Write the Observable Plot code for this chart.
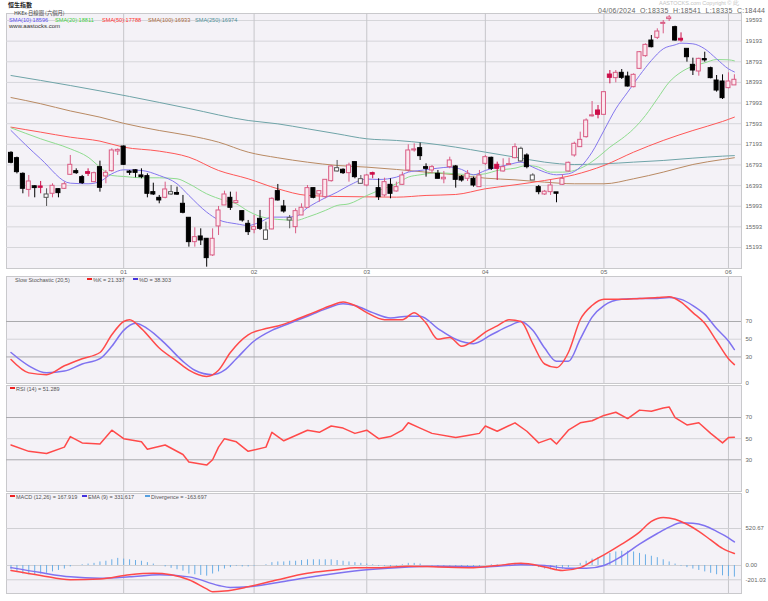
<!DOCTYPE html>
<html><head><meta charset="utf-8">
<script src="https://cdn.jsdelivr.net/npm/d3@7"></script>
<script src="https://cdn.jsdelivr.net/npm/@observablehq/plot@0.6"></script>
<style>
body{margin:0;background:#fff;font-family:"Liberation Sans",Arial,sans-serif;}
#wrap{position:relative;width:768px;height:601px;overflow:hidden;background:#fff;}
.t{position:absolute;white-space:nowrap;line-height:normal;}
.sq{display:inline-block;width:5px;height:2px;vertical-align:middle;margin-right:1px;position:relative;top:-1px;}
</style></head><body><div id="wrap"></div>
<script>
// ---- OHLC (trading-day index 0 = 1 Dec 2023 ... 122 = 4 Jun 2024)
const opens = [17028,16925,16621,16310,16380,16376,16156,16234,16324,16330,16602,16673,16557,16654,16460,16751,16570,16673,17055,17151,
16650,16690,16590,16576,16266,16156,16156,16221,16250,16040,15769,15297,15407,15362,15039,15601,16008,16156,16053,15898,
15652,15536,15749,15342,15543,16286,15988,15717,15588,15814,15963,16344,16221,16169,16479,16667,16700,16634,16848,16428,
16395,16635,16344,16202,16408,16279,16408,16686,17074,17119,16751,16686,16622,16515,16751,16764,16557,16525,16525,16363,
16815,16932,16796,16667,16790,16925,16861,16977,16492,16363,16221,16266,16247,16408,16667,16977,17138,17332,17735,17849,
17765,18546,18476,18579,18508,18301,18656,18902,19205,19257,19528,19620,19464,19224,19044,18734,18605,18830,18669,18430,
18411,18282,18335];
const highs = [17050,16945,16640,16589,16390,16473,16331,16428,16330,16460,16977,16718,16590,16718,16654,16867,16686,17106,17105,17160,
16686,16700,16718,16621,16440,16202,16460,16395,16363,16202,15769,15575,15555,15362,15555,15988,16285,16266,16266,15898,
15717,15814,15911,15685,16156,16415,16105,15814,15943,16040,16395,16344,16292,16505,16783,16880,16718,16828,16848,16589,
16610,16654,16525,16537,16525,16460,16654,17184,17203,17216,16815,16783,16686,16667,16944,16783,16589,16686,16557,16686,
16977,16944,16848,16912,16925,17203,17138,17009,16622,16396,16299,16492,16250,16602,16848,17235,17429,17687,18023,17946,
18217,18624,18624,18643,18592,18560,18992,19141,19302,19432,19593,19690,19483,19354,19044,18863,18863,18979,18689,18527,
18540,18579,18541];
const lows = [16815,16620,16234,16169,16156,16234,15988,16156,16156,16318,16590,16610,16415,16570,16450,16266,16428,16654,16977,16784,
16590,16544,16525,16156,16201,16040,16137,16202,16202,15846,15200,15200,15232,14812,15020,15426,16008,15911,16040,15685,
15426,15459,15523,15330,15536,16092,15859,15556,15459,15814,15963,16137,16072,16137,16460,16654,16609,16460,16525,16415,
16370,16525,16105,16169,16137,16266,16395,16654,17041,16880,16557,16622,16525,16428,16719,16344,16460,16473,16363,16363,
16783,16686,16492,16654,16790,16912,16848,16718,16492,16215,16202,16202,16060,16395,16654,16944,17138,17313,17720,17687,
17752,18366,18385,18450,18301,18288,18643,18882,19063,19225,19335,19574,19193,19173,18786,18527,18514,18785,18463,18204,
18062,18269,18335];
const closes = [16835,16654,16331,16473,16345,16350,16221,16389,16247,16420,16796,16634,16441,16621,16634,16350,16641,17074,17085,16796,
16641,16640,16557,16234,16221,16105,16318,16266,16218,15866,15297,15394,15330,14987,15362,15911,16221,15963,16092,15717,
15491,15588,15555,15523,16137,16105,15891,15762,15898,15963,16344,16156,16286,16505,16763,16731,16634,16783,16557,16518,
16589,16605,16169,16460,16234,16363,16589,17074,17080,16964,16718,16751,16525,16545,16880,16505,16492,16622,16395,16589,
16944,16718,16718,16751,16810,17138,17106,16751,16589,16266,16275,16395,16235,16525,16835,17203,17280,17655,17755,17765,
18204,18482,18579,18482,18314,18540,18979,19121,19076,19380,19548,19636,19205,19205,18882,18624,18850,18821,18476,18236,
18088,18411,18444];

// ---- moving averages [index, value]
const sma10 = [[0,17461],[5,16912],[10,16440],[13,16428],[15,16473],[17,16621],[19,16699],[22,16686],[25,16589],[28,16428],[30,16202],[33,15879],[35,15730],[38,15652],[40,15620],[42,15685],[44,15782],[46,15782],[48,15795],[50,15963],[53,16156],[55,16266],[57,16395],[60,16520],[62,16512],[65,16557],[67,16654],[69,16686],[72,16731],[74,16751],[76,16706],[78,16602],[80,16686],[82,16751],[84,16802],[86,16848],[88,16751],[90,16654],[92,16602],[94,16622],[96,16751],[98,17041],[100,17461],[102,17881],[104,18204],[106,18527],[108,18818],[110,19044],[112,19121],[113,19154],[115,19141],[117,19044],[119,18850],[121,18656],[122,18596]];
const sma20 = [[0,17513],[5,17300],[10,17106],[13,16944],[15,16751],[17,16589],[19,16570],[22,16544],[25,16544],[28,16525],[30,16428],[33,16234],[36,16105],[38,16040],[40,15898],[42,15795],[44,15749],[46,15730],[48,15717],[50,15782],[53,15911],[55,16008],[57,16040],[60,16200],[62,16299],[65,16428],[67,16557],[69,16602],[72,16641],[75,16622],[78,16602],[80,16622],[82,16686],[85,16731],[87,16783],[89,16751],[91,16654],[93,16654],[95,16686],[97,16783],[99,16944],[101,17138],[103,17300],[105,17493],[107,17752],[109,18075],[111,18398],[113,18592],[115,18708],[117,18773],[119,18837],[121,18831],[122,18811]];
const sma50 = [[0,17526],[5,17429],[10,17332],[15,17255],[19,17138],[25,17061],[30,16944],[35,16686],[40,16525],[45,16331],[50,16202],[55,16182],[60,16175],[65,16169],[70,16202],[75,16221],[80,16331],[85,16408],[90,16492],[95,16602],[100,16783],[105,17041],[110,17268],[115,17461],[120,17636],[122,17720]];
const sma100 = [[0,18100],[5,17980],[10,17840],[15,17720],[19,17600],[25,17461],[30,17364],[35,17235],[40,17041],[45,16932],[50,16847],[55,16783],[60,16751],[65,16706],[70,16654],[75,16602],[80,16537],[85,16505],[90,16460],[95,16428],[100,16428],[105,16525],[110,16654],[115,16802],[120,16899],[122,16933]];
const sma250 = [[0,18527],[10,18333],[20,18120],[30,17888],[40,17655],[45,17590],[50,17494],[55,17397],[60,17300],[65,17268],[70,17216],[75,17138],[80,17041],[85,16945],[90,16848],[95,16802],[100,16815],[105,16848],[110,16880],[115,16925],[120,16964],[122,16974]];

// ---- Slow stochastic
const stochK = [[0,27],[3,12],[6,10],[9,20],[12,28],[15,35],[17,55],[19,70],[20,72],[22,62],[25,40],[28,25],[30,15],[33,8],[35,15],[37,35],[40,55],[43,62],[45,65],[48,72],[51,80],[54,88],[56,92],[58,88],[60,80],[63,72],[66,72],[68,80],[70,68],[72,50],[74,52],[76,42],[78,48],[80,58],[82,65],[84,72],[86,70],[88,45],[90,22],[92,18],[94,35],[96,72],[98,88],[100,95],[103,95],[106,96],[109,97],[111,98],[113,92],[115,80],[117,68],[119,48],[121,28],[122,21.337]];
const stochD = [[0,35],[3,20],[6,12],[9,14],[12,22],[15,28],[17,42],[19,60],[21,68],[23,62],[26,45],[29,25],[31,15],[34,10],[36,15],[38,28],[41,48],[44,60],[47,68],[50,76],[53,84],[56,90],[58,88],[61,80],[64,74],[67,76],[69,76],[72,62],[75,50],[78,45],[81,55],[84,65],[86,70],[88,60],[90,40],[92,25],[94,25],[96,50],[98,75],[100,88],[103,95],[106,96],[109,96],[111,97],[113,95],[115,88],[117,78],[119,62],[121,48],[122,38.303]];
// ---- RSI(14)
const rsi = [[0,44],[3,38],[6,36],[9,42],[10,52],[12,46],[15,45],[17,58],[19,50],[22,47],[23,40],[26,44],[29,35],[30,28],[33,25],[34,30],[35,42],[36,50],[38,47],[40,38],[43,42],[44,56],[46,48],[48,53],[50,58],[52,56],[54,62],[56,60],[58,55],[60,58],[62,50],[64,52],[66,58],[67,65],[69,60],[71,55],[75,51],[77,53],[79,55],[80,62],[82,57],[85,65],[87,57],[89,46],[91,50],[92,45],[94,58],[96,65],[98,67],[100,72],[102,75],[104,69],[106,77],[108,76],[110,79],[111,80],[112,70],[114,63],[116,65],[118,55],[120,46],[121,51],[122,51.289]];
// ---- MACD
const macdLine = [[0,-70],[5,-140],[10,-200],[15,-190],[20,-130],[24,-110],[27,-130],[30,-200],[33,-330],[34,-370],[36,-360],[40,-300],[45,-200],[50,-110],[55,-60],[58,-30],[62,-30],[67,-10],[72,-20],[78,-30],[82,0],[86,30],[90,-20],[93,-70],[96,-30],[98,60],[100,150],[103,300],[106,470],[108,620],[110,675],[112,650],[114,580],[116,480],[118,360],[120,240],[122,167.919]];
const emaLine = [[0,-30],[5,-100],[10,-160],[15,-180],[20,-160],[25,-130],[30,-160],[35,-280],[37,-310],[40,-300],[45,-240],[50,-170],[55,-110],[60,-60],[65,-30],[72,-10],[80,-20],[86,10],[90,0],[94,-40],[97,-40],[100,0],[103,130],[106,300],[109,450],[111,540],[113,600],[115,595],[117,560],[119,480],[121,390],[122,331.617]];
const divergence = [-60,-90,-120,-130,-130,-120,-110,-90,-70,-50,-20,0,10,20,30,50,60,80,100,90,
80,70,60,40,20,0,-20,-40,-60,-80,-120,-130,-140,-150,-120,-90,-50,-30,-10,-20,
-20,-10,0,10,40,50,50,60,60,70,80,80,80,80,80,70,60,50,40,30,
20,10,-10,-10,-20,-10,10,30,30,20,0,-10,-20,-20,-10,-20,-30,-20,-30,-20,
0,10,10,10,20,30,30,20,-10,-30,-50,-60,-60,-50,-30,0,30,60,90,110,
140,170,190,200,200,190,170,150,130,110,80,50,20,-10,-30,-50,-70,-90,-110,-130,
-145,-155,-163.697];

// ---- axes
const priceTicks = [15193,15593,15993,16393,16793,17193,17593,17993,18393,18793,19193,19593];
const monthIdx = [19,41,60,80,100,121];
const monthLabels = ["01","02","03","04","05","06"];
const oscTicks = [0,30,50,70];
const macdTicks = [-201.03,0,520.67];

const wrap = document.getElementById("wrap");
const xDom = [-0.76, 123.2];
const FONT = "Liberation Sans, Arial, sans-serif";
const BG = "#f4f2f7";
const monthMap = new Map(monthIdx.map((d,i)=>[d,monthLabels[i]]));
const pts = a => a.map(([i,v])=>({i,v}));

const candles = closes.map((c,i)=>({i,o:opens[i],h:highs[i],l:lows[i],c,
  up: c>opens[i], rise: i===0 ? c>=opens[i] : c>=closes[i-1]}));
const fillOf = d => d.up ? (d.rise ? "#fbe9ef" : "#ffffff") : (d.rise ? "#cc0f4a" : "#000000");
const strokeOf = d => d.up ? (d.rise ? "#d95c84" : "#555555") : (d.rise ? "#cc0f4a" : "#000000");

function addPanel(top, height, marginBottom, yDomain, marks){
  const svg = Plot.plot({
    width:768, height, marginLeft:6, marginRight:27, marginTop:0, marginBottom,
    x:{domain:xDom, axis:null}, y:{domain:yDomain, axis:null},
    style:{background:"transparent", overflow:"visible", fontFamily:FONT},
    marks
  });
  svg.style.position="absolute"; svg.style.left="0px"; svg.style.top=top+"px";
  wrap.appendChild(svg);
}
const yAxis = (ticks, fmt) => Plot.axisY(ticks, {anchor:"right", tickSize:0, tickPadding:4, fontSize:6, color:"#666", label:null, tickFormat:fmt});

function oscBase(){
  return [
    Plot.frame({fill:BG, stroke:"#c9c9cc"}),
    Plot.ruleX(monthIdx, {stroke:"#c6c6ca"}),
    Plot.ruleY([50], {stroke:"#d4d4d8"}),
    Plot.ruleY([30,70], {stroke:"#a9a9ad"}),
    yAxis(oscTicks, d=>String(d))
  ];
}

// main price panel
addPanel(13, 263, 8, [14786, 19729], [
  Plot.frame({fill:BG, stroke:"#c9c9cc"}),
  Plot.ruleY(priceTicks, {stroke:"#d6d6da"}),
  Plot.ruleX(monthIdx, {stroke:"#c6c6ca"}),
  Plot.line(pts(sma250), {x:"i", y:"v", stroke:"#6fa4a8", strokeWidth:1, curve:"monotone-x"}),
  Plot.line(pts(sma100), {x:"i", y:"v", stroke:"#b98a63", strokeWidth:1, curve:"monotone-x"}),
  Plot.line(pts(sma50), {x:"i", y:"v", stroke:"#ff5757", strokeWidth:1, curve:"monotone-x"}),
  Plot.line(pts(sma20), {x:"i", y:"v", stroke:"#8fdc8f", strokeWidth:1, curve:"monotone-x"}),
  Plot.line(pts(sma10), {x:"i", y:"v", stroke:"#8477ee", strokeWidth:1, curve:"monotone-x"}),
  Plot.ruleX(candles, {x:"i", y1:"l", y2:"h", stroke:strokeOf, strokeWidth:1}),
  Plot.rect(candles, {x1:d=>d.i-0.34, x2:d=>d.i+0.34,
    y1:d=>Math.min(d.o,d.c), y2:d=>Math.max(d.o,d.c)+(Math.abs(d.o-d.c)<20?15:0),
    fill:fillOf, stroke:strokeOf, strokeWidth:1}),
  yAxis(priceTicks, d=>String(d)),
  Plot.axisX(monthIdx, {anchor:"bottom", tickSize:0, tickPadding:1.5, fontSize:6, color:"#666", label:null, tickFormat:d=>monthMap.get(d)})
]);

// stochastic
addPanel(276, 107, 0, [0, 120.8], [
  ...oscBase(),
  Plot.line(pts(stochD), {x:"i", y:"v", stroke:"#7f72f0", curve:"monotone-x"}),
  Plot.line(pts(stochK), {x:"i", y:"v", stroke:"#ff4a4a", curve:"monotone-x"})
]);
// RSI
addPanel(385, 106, 0, [0, 100.3], [
  ...oscBase(),
  Plot.line(pts(rsi), {x:"i", y:"v", stroke:"#ff4a4a"})
]);
// MACD
addPanel(493, 100, 0, [-394, 1013], [
  Plot.frame({fill:BG, stroke:"#c9c9cc"}),
  Plot.ruleX(monthIdx, {stroke:"#c6c6ca"}),
  Plot.ruleY(macdTicks, {stroke:"#d0d0d4"}),
  Plot.ruleX(divergence.map((v,i)=>({i,v})), {x:"i", y1:0, y2:"v", stroke:"#6aaee6", strokeWidth:1}),
  Plot.line(pts(emaLine), {x:"i", y:"v", stroke:"#7f72f0", curve:"monotone-x"}),
  Plot.line(pts(macdLine), {x:"i", y:"v", stroke:"#ff4a4a", curve:"monotone-x"}),
  yAxis(macdTicks, d=>d.toFixed(2))
]);

// texts
function txt(x, y, html, css){ const d=document.createElement("div"); d.className="t"; d.style.left=x+"px"; d.style.top=y+"px"; d.style.cssText+=css||""; d.innerHTML=html; wrap.appendChild(d); return d; }
txt(8, 0, "恒生指數", "font-size:6px;font-weight:bold;color:#222;font-family:'Noto Sans CJK TC',sans-serif;");
txt(14, 8.8, "HKEx 日線圖 (六個月)", "font-size:5.3px;color:#444;font-family:'Noto Sans CJK TC',sans-serif;");
txt(659, 0, "AASTOCKS.com Copyright © 此", "font-size:5.5px;color:#c4c4c4;");
txt(598, 7.2, "04/06/2024&nbsp;&nbsp;O:18335&nbsp;&nbsp;H:18541&nbsp;&nbsp;L:18335&nbsp;&nbsp;C:18444", "font-size:7px;color:#666;letter-spacing:0.25px;");
const smaLegend = [["SMA(10):18596","#5a4ff0",9],["SMA(20):18811","#3fcf3f",55],["SMA(50):17788","#ff3030",102],["SMA(100):16933","#a8683a",148],["SMA(250):16974","#4f8f98",195]];
smaLegend.forEach(([s,c,x])=>txt(x, 16.7, s, `font-size:5.6px;color:${c};`));
txt(9, 23.2, "www.aastocks.com", "font-size:6px;color:#333;");
txt(15, 276.5, "Slow Stochastic (20,5)", "font-size:5.5px;color:#555;");
txt(87, 276.5, "<span class='sq' style='background:#ee2222'></span>%K = 21.337", "font-size:5.5px;color:#555;");
txt(133, 276.5, "<span class='sq' style='background:#4433dd'></span>%D = 38.303", "font-size:5.5px;color:#555;");
txt(10, 385.5, "<span class='sq' style='background:#ee2222'></span>RSI (14) = 51.289", "font-size:5.5px;color:#555;");
txt(10, 493.5, "<span class='sq' style='background:#ee2222'></span>MACD (12,26) = 167.919", "font-size:5.5px;color:#555;");
txt(82, 493.5, "<span class='sq' style='background:#4433dd'></span>EMA (9) = 331.617", "font-size:5.5px;color:#555;");
txt(145, 493.5, "<span class='sq' style='background:#55a0e0'></span>Divergence = -163.697", "font-size:5.5px;color:#555;");
</script>
</body></html>
